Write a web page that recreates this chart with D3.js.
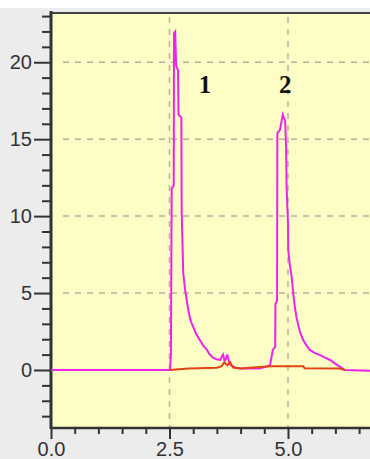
<!DOCTYPE html>
<html>
<head>
<meta charset="utf-8">
<script src="https://cdn.jsdelivr.net/npm/d3@7"></script>
<style>
  html, body { margin: 0; padding: 0; background: #ffffff; }
  #chart { width: 370px; height: 459px; overflow: hidden; }
</style>
</head>
<body>
<div id="chart"></div>
<script>
// Chromatogram trace (magenta), time in min
var sampleTime = [0, 2.51, 2.53, 2.546, 2.59, 2.595, 2.62, 2.64, 2.66, 2.68, 2.69, 2.75, 2.757, 2.78, 2.79,
    2.83, 2.88, 2.93, 2.96, 3.0, 3.07, 3.14, 3.21, 3.29, 3.35, 3.42, 3.49, 3.57, 3.61, 3.63, 3.66, 3.68,
    3.71, 3.73, 3.76, 3.80, 3.90, 3.99,
    4.40, 4.62, 4.68, 4.73, 4.735, 4.77, 4.775, 4.83, 4.89, 4.94, 4.96, 4.97, 5.0, 5.005,
    5.04, 5.08, 5.11, 5.14, 5.18, 5.25, 5.32, 5.39, 5.46, 5.57, 5.68, 5.78, 5.89, 6.0, 6.10, 6.20, 6.73];
var sampleSignal = [0, 0, 1.0, 11.8, 12.0, 21.9, 22.0, 19.8, 19.6, 19.5, 16.6, 16.4, 10.3, 7.5, 6.3,
    5.2, 4.2, 3.4, 3.1, 2.8, 2.3, 1.95, 1.6, 1.3, 1.0, 0.8, 0.7, 0.65, 0.9, 1.0, 0.6, 0.65,
    0.95, 0.9, 0.45, 0.3, 0.15, 0.1,
    0.1, 0.3, 1.3, 1.5, 4.3, 4.5, 15.4, 15.6, 16.6, 16.2, 14.5, 11.9, 9.5, 7.8,
    6.8, 6.0, 5.0, 4.2, 3.4, 2.5, 1.95, 1.6, 1.3, 1.1, 0.97, 0.8, 0.65, 0.4, 0.2, 0, -0.05];

// Baseline trace (red)
var baseTime = [2.51, 2.9, 3.5, 3.6, 3.66, 3.72, 3.78, 3.84, 4.0, 4.4, 4.65, 5.32, 5.35, 6.1, 6.2];
var baseSignal = [0, 0.1, 0.15, 0.25, 0.5, 0.3, 0.5, 0.15, 0.1, 0.2, 0.25, 0.25, 0.12, 0.1, 0];

// Axis ticks
var xTicks = [0, 2.5, 5.0];
var yTicks = [0, 5, 10, 15, 20];

// Peak numbers
var peakNames = ["1", "2"];
var peakTime = [3.25, 4.94];
var peakHeight = [18, 18];

document.addEventListener("DOMContentLoaded", function() {
    var width = 370;
    var height = 459;

    var svg = d3.select("#chart")
        .append("svg")
        .attr("width", width)
        .attr("height", height);

    // Light gray frame around the plot
    svg.append("rect")
        .attr("x", 0).attr("y", 8)
        .attr("width", width).attr("height", height - 8)
        .attr("fill", "#ececec");

    // Scales
    var x = d3.scaleLinear().domain([0, 6.73]).range([51, 370]);
    var y = d3.scaleLinear().domain([-3.77, 23.2]).range([428, 13]);

    // Pale yellow plot area
    svg.append("rect")
        .attr("x", x(0)).attr("y", y(23.2))
        .attr("width", width - x(0)).attr("height", y(-3.77) - y(23.2))
        .attr("fill", "#fdfdc6");

    // Dashed grid lines
    var grid = svg.append("g")
        .attr("stroke", "#b4b4a4")
        .attr("stroke-width", 1.5)
        .attr("stroke-dasharray", "6,6");
    grid.selectAll("line.h")
        .data(yTicks.filter(function(d) { return d !== 0; }))
        .enter().append("line")
        .attr("class", "h")
        .attr("x1", x(0) + 12).attr("x2", width)
        .attr("y1", function(d) { return y(d); })
        .attr("y2", function(d) { return y(d); });
    grid.selectAll("line.v")
        .data(xTicks.filter(function(d) { return d !== 0; }))
        .enter().append("line")
        .attr("class", "v")
        .attr("x1", function(d) { return x(d); })
        .attr("x2", function(d) { return x(d); })
        .attr("y1", y(23.2) + 4).attr("y2", y(-3.77));

    // Axes with minor ticks
    var yMinor = d3.range(-3, 24, 1).filter(function(d) { return d % 5 !== 0; });
    var xMinor = d3.range(0.5, 6.6, 0.5).filter(function(d) { return Math.abs(d % 2.5) > 1e-6; });

    var yAxisMinor = svg.append("g")
        .attr("transform", "translate(" + x(0) + ",0)")
        .call(d3.axisLeft(y).tickValues(yMinor).tickSize(9).tickFormat(""));
    var yAxis = svg.append("g")
        .attr("transform", "translate(" + x(0) + ",0)")
        .call(d3.axisLeft(y).tickValues(yTicks).tickSize(17).tickPadding(2).tickFormat(d3.format("d")));

    var xAxisMinor = svg.append("g")
        .attr("transform", "translate(0," + y(-3.77) + ")")
        .call(d3.axisBottom(x).tickValues(xMinor).tickSize(6).tickFormat(""));
    var xAxis = svg.append("g")
        .attr("transform", "translate(0," + y(-3.77) + ")")
        .call(d3.axisBottom(x).tickValues(xTicks).tickSize(11).tickPadding(3).tickFormat(d3.format(".1f")));

    [yAxisMinor, yAxis, xAxisMinor, xAxis].forEach(function(g) {
        g.select(".domain").remove();
        g.selectAll(".tick line").attr("stroke", "#333").attr("stroke-width", 2);
        g.selectAll("text")
            .attr("fill", "#333")
            .style("font-family", "'Liberation Sans', Arial, sans-serif")
            .style("font-size", "20px");
    });

    // Axis frame lines
    svg.append("line")
        .attr("x1", x(0)).attr("x2", width)
        .attr("y1", y(23.2)).attr("y2", y(23.2))
        .attr("stroke", "#444").attr("stroke-width", 2);
    svg.append("line")
        .attr("x1", x(0)).attr("x2", width)
        .attr("y1", y(-3.77)).attr("y2", y(-3.77))
        .attr("stroke", "#333").attr("stroke-width", 2.5);
    svg.append("line")
        .attr("x1", x(0)).attr("x2", x(0))
        .attr("y1", y(23.2) - 2).attr("y2", y(-3.77) + 1)
        .attr("stroke", "#333").attr("stroke-width", 3);

    // Traces
    var line = d3.line()
        .x(function(d) { return x(d[0]); })
        .y(function(d) { return y(d[1]); });

    svg.append("path")
        .datum(d3.zip(sampleTime, sampleSignal))
        .attr("fill", "none")
        .attr("stroke", "#ee22ee")
        .attr("stroke-width", 2)
        .attr("d", line);

    svg.append("path")
        .datum(d3.zip(baseTime, baseSignal))
        .attr("fill", "none")
        .attr("stroke", "#e04412")
        .attr("stroke-width", 2)
        .attr("d", line);

    // Peak labels
    svg.selectAll("text.peak")
        .data(peakNames)
        .enter().append("text")
        .attr("class", "peak")
        .attr("x", function(d, i) { return x(peakTime[i]); })
        .attr("y", function(d, i) { return y(peakHeight[i]); })
        .attr("text-anchor", "middle")
        .attr("fill", "#111")
        .style("font-family", "'Liberation Serif', 'Times New Roman', serif")
        .style("font-weight", "bold")
        .style("font-size", "25px")
        .text(function(d) { return d; });
});
</script>
</body>
</html>
